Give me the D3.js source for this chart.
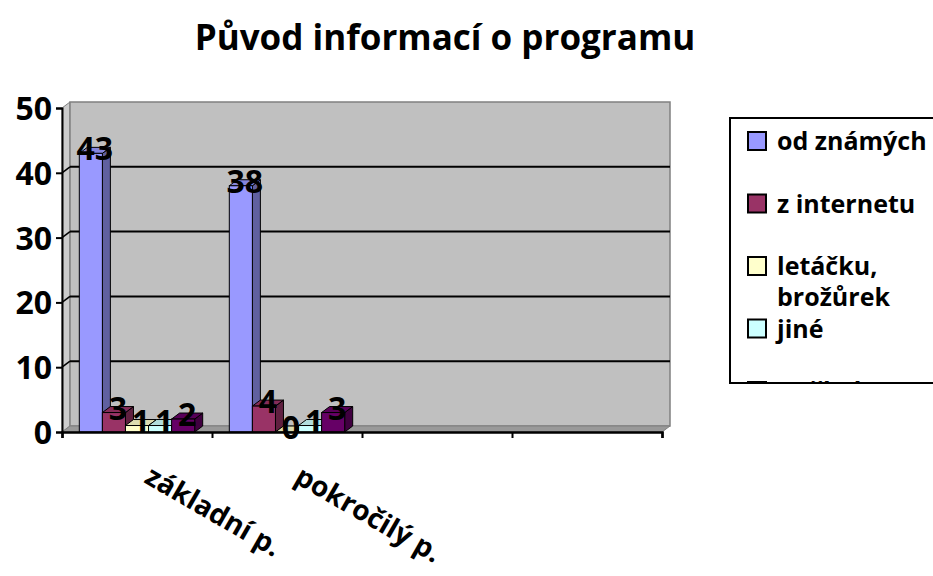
<!DOCTYPE html>
<html>

<head>
    <meta charset="utf-8">
    <style>
        body {
            margin: 0;
            background: #fff;
        }

        svg {
            font-family: 'Open Sans', 'DejaVu Sans', sans-serif;
            font-weight: bold;
        }
    </style>
</head>

<body>
    <svg width="933" height="576"></svg>
</body>

<script src="https://d3js.org/d3.v7.min.js"></script>

<script>
    // data
    let categories = ["základní p.", "pokročilý p.", "", ""];
    let seriesNames = ["od známých", "z internetu", "letáčku, brožůrek", "jiné", "ze školy"];
    let odZnamych = [43, 38];
    let zInternetu = [3, 4];
    let letacku = [1, 0];
    let jine = [1, 1];
    let zeSkoly = [2, 3];
    let yTicks = [0, 10, 20, 30, 40, 50];
    let colors = ["#9999FF", "#993366", "#FFFFCC", "#CCFFFF", "#660066"];

    let seriesValues = [odZnamych, zInternetu, letacku, jine, zeSkoly];

    let svg = d3.select("svg");

    let margin = { top: 108, left: 62 };
    let plotRight = 662;
    let plotBottom = 432;
    let depth = { dx: 8, dy: -6 };

    let y = d3.scaleLinear()
        .domain([0, 50])
        .range([plotBottom, margin.top]);

    let x = d3.scaleBand()
        .domain(d3.range(categories.length))
        .range([margin.left, plotRight]);

    // gap width 150% like excel
    let barW = x.bandwidth() / (seriesNames.length + 1.5);
    let xs = d3.scaleBand()
        .domain(d3.range(seriesNames.length))
        .range([barW * 0.75, x.bandwidth() - barW * 0.75]);

    // title
    svg.append("text")
        .attr("x", 445)
        .attr("y", 50)
        .attr("text-anchor", "middle")
        .style("font-size", "35px")
        .text("Původ informací o programu");

    // walls
    let walls = svg.append("g");
    walls.append("polygon") // side wall
        .attr("points", [[margin.left, y(50)], [margin.left + depth.dx, y(50) + depth.dy],
            [margin.left + depth.dx, plotBottom + depth.dy], [margin.left, plotBottom]].join(" "))
        .attr("fill", "#cccccc")
        .attr("stroke", "#808080");
    walls.append("rect") // back wall
        .attr("x", margin.left + depth.dx)
        .attr("y", y(50) + depth.dy)
        .attr("width", plotRight - margin.left)
        .attr("height", plotBottom - y(50))
        .attr("fill", "#C0C0C0")
        .attr("stroke", "#808080")
        .attr("stroke-width", 1.5);
    walls.append("polygon") // floor
        .attr("points", [[margin.left, plotBottom], [plotRight, plotBottom],
            [plotRight + depth.dx, plotBottom + depth.dy], [margin.left + depth.dx, plotBottom + depth.dy]].join(" "))
        .attr("fill", "#999999")
        .attr("stroke", "#808080");

    // gridlines on back wall + diagonals on side wall
    let grid = yTicks.filter(d => d > 0 && d < 50);
    walls.selectAll(".grid")
        .data(grid)
        .enter().append("line")
        .attr("x1", margin.left + depth.dx)
        .attr("x2", plotRight + depth.dx)
        .attr("y1", d => y(d) + depth.dy)
        .attr("y2", d => y(d) + depth.dy)
        .attr("stroke", "black")
        .attr("stroke-width", 2);
    walls.selectAll(".diag")
        .data(grid)
        .enter().append("line")
        .attr("x1", margin.left)
        .attr("x2", margin.left + depth.dx)
        .attr("y1", d => y(d))
        .attr("y2", d => y(d) + depth.dy)
        .attr("stroke", "black")
        .attr("stroke-width", 1.5);

    // bars, drawn left to right
    let bars = svg.append("g");
    categories.forEach((cat, ci) => {
        seriesValues.forEach((vals, si) => {
            if (vals[ci] === undefined) return;
            let v = vals[ci];
            let x0 = x(ci) + xs(si);
            let x1 = x0 + xs.bandwidth();
            let yt = y(v);
            let c = d3.color(colors[si]);
            let dx = depth.dx, dy = depth.dy;
            // side face
            bars.append("polygon")
                .attr("points", [[x1, yt], [x1 + dx, yt + dy], [x1 + dx, plotBottom + dy], [x1, plotBottom]].join(" "))
                .attr("fill", c.darker(1.3))
                .attr("stroke", "black").attr("stroke-width", 1);
            // top face
            bars.append("polygon")
                .attr("points", [[x0, yt], [x0 + dx, yt + dy], [x1 + dx, yt + dy], [x1, yt]].join(" "))
                .attr("fill", c.darker(0.4))
                .attr("stroke", "black").attr("stroke-width", 1);
            // front face
            bars.append("rect")
                .attr("x", x0)
                .attr("y", yt)
                .attr("width", x1 - x0)
                .attr("height", plotBottom - yt)
                .attr("fill", c)
                .attr("stroke", "black").attr("stroke-width", 1);
        });
    });

    // data labels
    categories.forEach((cat, ci) => {
        seriesValues.forEach((vals, si) => {
            if (vals[ci] === undefined) return;
            svg.append("text")
                .attr("x", x(ci) + xs(si) + xs.bandwidth() / 2 + depth.dx / 2)
                .attr("y", y(vals[ci]) + 7)
                .attr("text-anchor", "middle")
                .style("font-size", "32px")
                .text(vals[ci]);
        });
    });

    // y axis
    let yAxis = svg.append("g")
        .attr("transform", `translate(${margin.left},0)`)
        .call(d3.axisLeft(y).tickValues(yTicks).tickSize(6).tickPadding(4));
    yAxis.select(".domain").attr("stroke-width", 2);
    yAxis.selectAll(".tick line").attr("stroke-width", 2);
    yAxis.selectAll("text")
        .style("font-size", "32px")
        .style("font-family", "'Open Sans', sans-serif")
        .attr("dy", "0.36em");

    // x axis: ticks on category borders
    let xLin = d3.scaleLinear().domain([0, categories.length]).range([margin.left, plotRight]);
    let xAxis = svg.append("g")
        .attr("transform", `translate(0,${plotBottom})`)
        .call(d3.axisBottom(xLin).tickValues(d3.range(categories.length + 1)).tickSize(6).tickFormat(""));
    xAxis.select(".domain").attr("stroke-width", 2.5);
    xAxis.selectAll(".tick line").attr("stroke-width", 2);

    // category labels rotated
    svg.selectAll(".cat")
        .data(categories.filter(d => d !== ""))
        .enter().append("text")
        .attr("transform", (d, i) => `translate(${x(i) + x.bandwidth() / 2 + 6},${plotBottom + 50}) rotate(30)`)
        .style("font-size", "28px")
        .text(d => d);

    // legend
    let lg = svg.append("g");
    lg.append("clipPath").attr("id", "lgclip")
        .append("rect").attr("x", 730).attr("y", 118).attr("width", 210).attr("height", 265);
    lg.append("rect")
        .attr("x", 730).attr("y", 118).attr("width", 210).attr("height", 265)
        .attr("fill", "white").attr("stroke", "black").attr("stroke-width", 2);
    let items = lg.append("g").attr("clip-path", "url(#lgclip)")
        .selectAll(".item")
        .data(seriesNames)
        .enter().append("g")
        .attr("transform", (d, i) => `translate(748,${141 + i * 62.5})`);
    items.append("rect")
        .attr("x", 0).attr("y", -9).attr("width", 18).attr("height", 18)
        .attr("fill", (d, i) => colors[i])
        .attr("stroke", "black").attr("stroke-width", 2);
    items.append("text")
        .attr("x", 29)
        .attr("y", 9)
        .style("font-size", "25px")
        .selectAll("tspan")
        .data(d => d.split(/(?<=,) /))
        .enter().append("tspan")
        .attr("x", 29)
        .attr("dy", (d, i) => i === 0 ? 0 : 31)
        .text(d => d);
    lg.append("rect")
        .attr("x", 730).attr("y", 118).attr("width", 210).attr("height", 265)
        .attr("fill", "none").attr("stroke", "black").attr("stroke-width", 2);
</script>

</html>
